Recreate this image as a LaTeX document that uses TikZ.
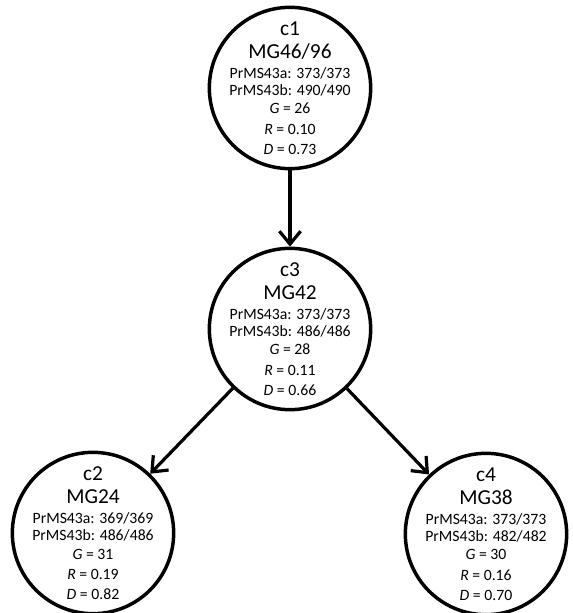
\documentclass[tikz,border=0pt]{standalone}
\usepackage{fontspec}
\setmainfont{Carlito}
\usetikzlibrary{arrows.meta,positioning}

\newcommand{\clhead}{\fontsize{16}{16.5}\selectfont}
\newcommand{\cltext}{\fontsize{11.8}{13.2}\selectfont}

\begin{document}
\begin{tikzpicture}[
        x=0.75pt, y=-0.75pt,
        clust/.style={draw, circle, line width=2.6pt, minimum size=121pt,
                      inner sep=-11pt, align=center, font=\cltext},
        lnk/.style={-{Straight Barb[length=3.4mm,width=5.6mm,line width=2.4pt]},
                    line width=2.4pt}
      ]
        \useasboundingbox (0,0) rectangle (572,613);
        \node[clust] (c1) at (290,88)
          {{\clhead c1}\\[4.6pt]{\clhead MG46/96}\\[1.2pt]
           PrMS43a: 373/373\\PrMS43b: 490/490\\[0.5pt]
           \textit{G} = 26\\[2pt]\textit{R} = 0.10\\[2pt]\textit{D} = 0.73};
        \node[clust] (c3) at (290,329)
          {{\clhead c3}\\[4.6pt]{\clhead MG42}\\[1.2pt]
           PrMS43a: 373/373\\PrMS43b: 486/486\\[0.5pt]
           \textit{G} = 28\\[2pt]\textit{R} = 0.11\\[2pt]\textit{D} = 0.66};
        \node[clust] (c2) at (93,533)
          {{\clhead c2}\\[4.6pt]{\clhead MG24}\\[1.2pt]
           PrMS43a: 369/369\\PrMS43b: 486/486\\[0.5pt]
           \textit{G} = 31\\[2pt]\textit{R} = 0.19\\[2pt]\textit{D} = 0.82};
        \node[clust] (c4) at (486,534)
          {{\clhead c4}\\[4.6pt]{\clhead MG38}\\[1.2pt]
           PrMS43a: 373/373\\PrMS43b: 482/482\\[0.5pt]
           \textit{G} = 30\\[2pt]\textit{R} = 0.16\\[2pt]\textit{D} = 0.70};
        \draw[lnk] (c1) -- (c3);
        \draw[lnk] (c3) -- (c2);
        \draw[lnk] (c3) -- (c4);
      \end{tikzpicture}
\end{document}
